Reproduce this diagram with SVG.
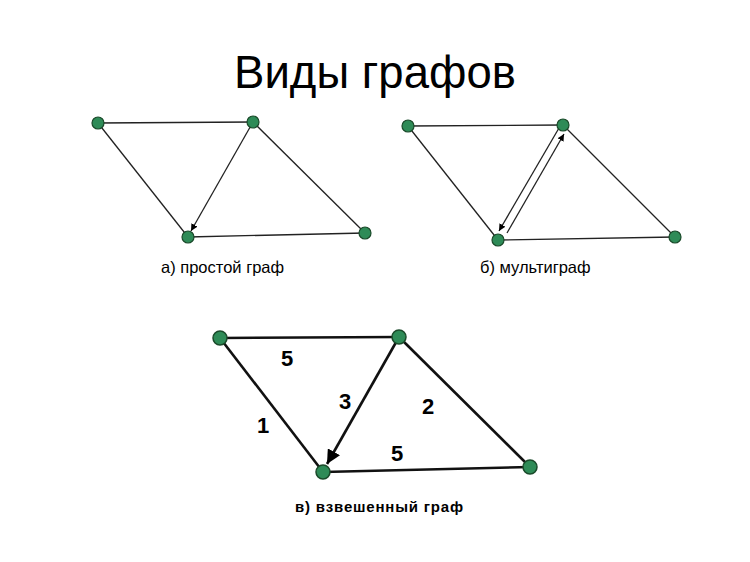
<svg xmlns="http://www.w3.org/2000/svg" width="750" height="562" viewBox="0 0 750 562">
<defs>
<style>
.e{stroke:#222;stroke-width:1.3;fill:none}
.ew{stroke:#111;stroke-width:2.6;fill:none}
.n{fill:#2e8b57;stroke:#1a4a2a;stroke-width:1.2}
.nw{fill:#2e8b57;stroke:#1a4a2a;stroke-width:1.5}
.t{font-family:"Liberation Sans",Arial,sans-serif;fill:#000}
.w{font-family:"Liberation Sans",Arial,sans-serif;font-weight:bold;font-size:22px;fill:#000}
</style>
<marker id="a" viewBox="0 0 10 10" refX="10" refY="5" markerWidth="7" markerHeight="7" orient="auto" markerUnits="userSpaceOnUse"><path d="M0,0 L10,5 L0,10 z" fill="#000"/></marker>
<marker id="ab" viewBox="0 0 10 10" refX="10" refY="5" markerWidth="14" markerHeight="14" orient="auto" markerUnits="userSpaceOnUse"><path d="M0,0 L10,5 L0,10 z" fill="#000"/></marker>
</defs>
<rect width="750" height="562" fill="#fff"/>
<text class="t" x="375" y="88" font-size="45.5" text-anchor="middle">Виды графов</text>
<g id="connectors">
<line class="e" x1="98" y1="123" x2="253" y2="122"/>
<line class="e" x1="98" y1="123" x2="188" y2="237"/>
<line class="e" x1="253" y1="122" x2="191" y2="231" marker-end="url(#a)"/>
<line class="e" x1="253" y1="122" x2="365" y2="233"/>
<line class="e" x1="188" y1="237" x2="365" y2="233"/>
<line class="e" x1="408" y1="126" x2="563" y2="125"/>
<line class="e" x1="408" y1="126" x2="498" y2="240"/>
<line class="e" x1="559" y1="128" x2="499" y2="231" marker-end="url(#a)"/>
<line class="e" x1="507" y1="233" x2="564" y2="134" marker-end="url(#a)"/>
<line class="e" x1="563" y1="125" x2="675" y2="237"/>
<line class="e" x1="498" y1="240" x2="675" y2="237"/>
<line class="ew" x1="220" y1="338" x2="399" y2="337"/>
<line class="ew" x1="220" y1="338" x2="323" y2="472"/>
<line class="ew" x1="399" y1="337" x2="327" y2="464" marker-end="url(#ab)"/>
<line class="ew" x1="399" y1="337" x2="530" y2="467"/>
<line class="ew" x1="323" y1="472" x2="530" y2="467"/>
</g>
<g id="a1"><circle class="n" cx="98" cy="123" r="6"/></g>
<g id="a2"><circle class="n" cx="253" cy="122" r="6"/></g>
<g id="a3"><circle class="n" cx="188" cy="237" r="6"/></g>
<g id="a4"><circle class="n" cx="365" cy="233" r="6"/></g>
<g id="b1"><circle class="n" cx="408" cy="126" r="6"/></g>
<g id="b2"><circle class="n" cx="563" cy="125" r="6"/></g>
<g id="b3"><circle class="n" cx="498" cy="240" r="6"/></g>
<g id="b4"><circle class="n" cx="675" cy="237" r="6"/></g>
<g id="c1"><circle class="nw" cx="220" cy="338" r="7"/></g>
<g id="c2"><circle class="nw" cx="399" cy="337" r="7"/></g>
<g id="c3"><circle class="nw" cx="323" cy="472" r="7"/></g>
<g id="c4"><circle class="nw" cx="530" cy="467" r="7"/></g>
<g id="weights">
<text class="w" x="287" y="366" text-anchor="middle">5</text>
<text class="w" x="263" y="433" text-anchor="middle">1</text>
<text class="w" x="345" y="409" text-anchor="middle">3</text>
<text class="w" x="428" y="414" text-anchor="middle">2</text>
<text class="w" x="397" y="461" text-anchor="middle">5</text>
</g>
<text class="t" x="161" y="273" font-size="16.5">а) простой граф</text>
<text class="t" x="480" y="273" font-size="16.5">б) мультиграф</text>
<text class="t" x="295" y="512" font-size="15" font-weight="bold" letter-spacing="0.8">в) взвешенный граф</text>
</svg>
